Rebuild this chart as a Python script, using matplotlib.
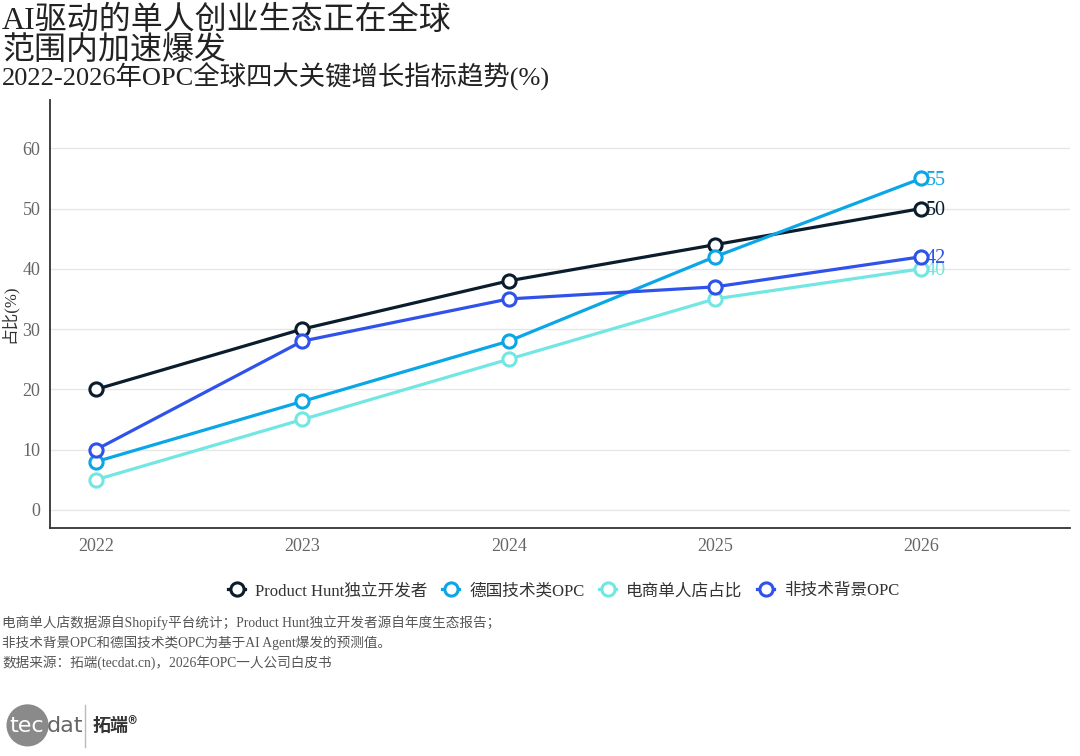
import matplotlib.pyplot as plt
from matplotlib.patches import Ellipse
from matplotlib.lines import Line2D

plt.rcParams["font.family"] = ["Liberation Serif", "Noto Sans CJK SC", "DejaVu Sans"]

# data
years = [2022, 2023, 2024, 2025, 2026]
series_names = ["Product Hunt独立开发者", "德国技术类OPC", "电商单人店占比", "非技术背景OPC"]
product_hunt = [20, 30, 38, 44, 50]
german_tech = [8, 18, 28, 42, 55]
ecommerce = [5, 15, 25, 35, 40]
non_tech = [10, 28, 35, 37, 42]
colors = ["#0b1c2c", "#0aa6e6", "#72e6e2", "#2f52ea"]
y_ticks = [0, 10, 20, 30, 40, 50, 60]

fig = plt.figure(figsize=(10.8, 7.56), dpi=100)
ax = fig.add_axes([0.0463, 0.3016, 0.9444, 0.5661])

all_series = [product_hunt, german_tech, ecommerce, non_tech]
for name, values, color in zip(series_names, all_series, colors):
    ax.plot(years, values, color=color, linewidth=2.3, marker="o",
            markersize=9.5, markerfacecolor="white", markeredgecolor=color,
            markeredgewidth=2.2, label=name, zorder=3)
    ax.text(years[-1] + 0.02, values[-1] - 0.3, str(values[-1]), color=color,
            fontsize=14.5, va="center", ha="left", zorder=4)

ax.set_xlim(2021.777, 2026.72)
ax.set_ylim(-3, 68)
ax.set_xticks(years)
ax.set_yticks(y_ticks)
ax.tick_params(length=0, labelsize=13, labelcolor="#666666", pad=7)
ax.grid(axis="y", color="#e6e6e6", linewidth=1)
ax.set_axisbelow(True)
for side in ["top", "right"]:
    ax.spines[side].set_visible(False)
for side in ["left", "bottom"]:
    ax.spines[side].set_color("#333333")
    ax.spines[side].set_linewidth(1.3)
ax.set_ylabel("占比(%)", fontsize=12, color="#333333", labelpad=3)

handles = [Line2D([0], [0], color=c, linewidth=2.3, marker="o", markersize=9.5,
                  markerfacecolor="white", markeredgecolor=c, markeredgewidth=2.2)
           for c in colors]
fig.legend(handles, series_names, loc="center", bbox_to_anchor=(0.522, 0.218),
           ncol=4, frameon=False, fontsize=12, handlelength=1.0,
           handletextpad=0.6, columnspacing=0.9, labelcolor="#333333")

# titles
fig.text(0.002, 0.992, "AI驱动的单人创业生态正在全球\n范围内加速爆发", fontsize=23,
         va="top", ha="left", color="#222222", linespacing=1.0)
fig.text(0.002, 0.898, "2022-2026年OPC全球四大关键增长指标趋势(%)", fontsize=19,
         va="center", ha="left", color="#222222")

# notes
notes = ["电商单人店数据源自Shopify平台统计；Product Hunt独立开发者源自年度生态报告；",
         "非技术背景OPC和德国技术类OPC为基于AI Agent爆发的预测值。",
         "数据来源：拓端(tecdat.cn)，2026年OPC一人公司白皮书"]
for i, line in enumerate(notes):
    fig.text(0.002, 0.176 - i * 0.0265, line, fontsize=9.8, color="#555555",
             va="center", ha="left")

# logo
fig.patches.append(Ellipse((0.0255, 0.0405), 0.039, 0.039 * 1080 / 756,
                           transform=fig.transFigure, facecolor="#8a8a8a",
                           edgecolor="none"))
fig.text(0.009, 0.040, "tec", fontsize=16, color="white", va="center", ha="left",
         family="DejaVu Sans")
fig.text(0.043, 0.040, "dat", fontsize=16, color="#666666", va="center", ha="left",
         family="DejaVu Sans")
fig.add_artist(Line2D([0.079, 0.079], [0.012, 0.068], transform=fig.transFigure,
                      color="#bbbbbb", linewidth=1))
fig.text(0.086, 0.040, "拓端®", fontsize=13, color="#333333", va="center",
         ha="left", weight="bold", family=["Noto Sans CJK SC", "DejaVu Sans"])

fig.savefig("out.png", dpi=100)
